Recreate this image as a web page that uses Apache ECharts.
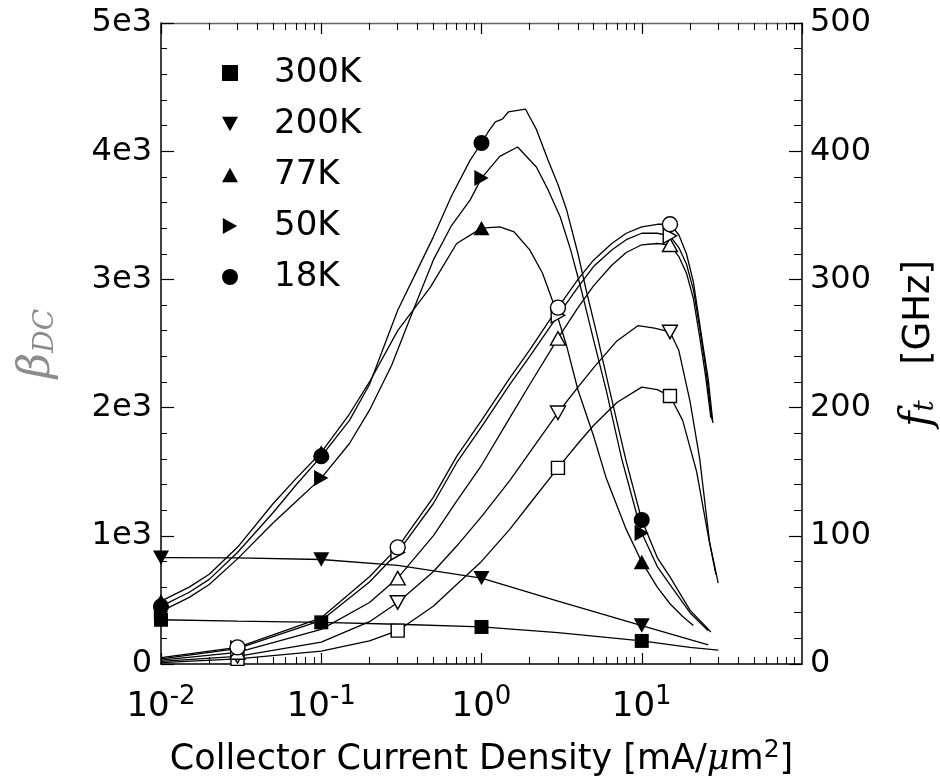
<!DOCTYPE html>
<html>
<head>
<meta charset="utf-8">
<script src="https://cdn.jsdelivr.net/npm/echarts@6/dist/echarts.min.js"></script>
<style>
  html, body { margin: 0; background: #fff; }
  #chart { width: 940px; height: 779px; }
</style>
</head>
<body>
<div id="chart"></div>
<script>
// where the markers sit (collector current density, mA/um^2)
var betaMarkX = [0.01, 0.1, 1, 10];
var ftMarkX = [0.03, 0.3, 3, 15];
var temps = ['300K', '200K', '77K', '50K', '18K'];

// beta_DC curves, [J, beta]
var beta300 = [[0.01, 345], [0.03, 335], [0.1, 325], [0.3, 310], [1, 289], [3, 245], [10, 180], [20, 130], [30, 109]];
var beta200 = [[0.01, 830], [0.03, 828], [0.1, 815], [0.3, 770], [1, 670], [3, 490], [10, 300], [26, 150]];
var beta77 = [[0.01, 490], [0.015, 600], [0.02, 700], [0.03, 910], [0.05, 1250], [0.07, 1450], [0.1, 1650], [0.15, 1950], [0.2, 2200], [0.3, 2600],
  [0.48, 2940], [0.7, 3280], [1, 3400], [1.3, 3410], [1.6, 3370], [2, 3230], [2.4, 3050], [2.8, 2820], [3.4, 2480], [4, 2137], [5, 1780],
  [6, 1450], [8, 1050], [10, 796], [12.5, 600], [15, 470], [18, 370], [21, 300]];
var beta50 = [[0.01, 410], [0.015, 520], [0.02, 620], [0.03, 820], [0.05, 1100], [0.07, 1270], [0.1, 1450], [0.15, 1720], [0.2, 1980], [0.275, 2330],
  [0.375, 2760], [0.5, 3150], [0.65, 3420], [0.85, 3620], [1, 3790], [1.3, 3960], [1.68, 4033], [2.2, 3877], [2.6, 3700], [3.1, 3487], [3.6, 3230],
  [4.2, 2917], [5, 2530], [6, 2137], [7.5, 1600], [10, 1022], [12.5, 760], [15, 620], [20, 400], [26, 260]];
var beta18 = [[0.01, 450], [0.015, 560], [0.02, 660], [0.03, 870], [0.05, 1180], [0.07, 1400], [0.1, 1620], [0.15, 1900], [0.2, 2180], [0.3, 2760],
  [0.4, 3080], [0.5, 3330], [0.65, 3650], [0.85, 3930], [1, 4064], [1.1, 4150], [1.22, 4228], [1.35, 4250], [1.47, 4306], [1.88, 4329], [2.2, 4170],
  [2.6, 3931], [3, 3740], [3.4, 3541], [4, 3200], [4.5, 2917], [5.3, 2550], [6.3, 2137], [8, 1580], [10, 1123], [12.5, 830], [15, 680], [20, 420], [27, 250]];

// f_t curves, [J, GHz]
var ft300 = [[0.01, 1], [0.03, 4], [0.1, 10], [0.2, 18], [0.3, 26], [0.5, 45], [0.7, 62], [1, 80], [1.5, 105], [2, 125], [3, 153], [4, 172], [5, 186],
  [7, 204], [10, 216], [12.5, 214], [15, 209], [18, 190], [22, 150], [26, 100], [29, 70]];
var ft200 = [[0.01, 2], [0.03, 6], [0.1, 17], [0.2, 33], [0.3, 48], [0.5, 72], [0.7, 92], [1, 115], [1.5, 143], [2, 165], [3, 196], [4, 216], [5, 231],
  [7, 252], [9.5, 264], [12, 262], [15, 259], [17, 245], [20, 205], [23, 160], [26.5, 95], [30, 63]];
var ft77 = [[0.01, 3], [0.03, 9], [0.1, 27], [0.2, 48], [0.3, 67], [0.5, 100], [0.7, 127], [1, 155], [1.5, 192], [2, 218], [3, 254], [4, 278],
  [5, 295], [6.5, 311], [8, 321], [10, 327], [12.5, 328], [15, 327], [17, 318], [19, 305], [21, 285], [23, 255], [25, 225], [27, 192]];
var ft50 = [[0.01, 4], [0.03, 12], [0.1, 34], [0.2, 64], [0.3, 87], [0.5, 125], [0.7, 157], [1, 185], [1.5, 218], [2, 240], [3, 272], [4, 294],
  [5, 310], [6.5, 323], [8, 331], [10, 336], [12.5, 336], [15, 334], [17, 325], [19, 312], [21, 292], [23, 262], [25, 232], [27.5, 190]];
var ft18 = [[0.01, 5], [0.03, 13], [0.1, 36], [0.2, 68], [0.3, 91], [0.5, 130], [0.7, 162], [1, 190], [1.5, 223], [2, 245], [3, 278], [4, 300],
  [5, 315], [6.5, 328], [8, 336], [10, 341], [12.5, 343], [15, 343], [17, 335], [19, 320], [21, 298], [24, 250], [26, 222], [27.8, 188]];

var betaCurves = [beta300, beta200, beta77, beta50, beta18];
var ftCurves = [ft300, ft200, ft77, ft50, ft18];

// minor ticks of the log axis
var minorX = [0.02, 0.03, 0.04, 0.05, 0.06, 0.07, 0.08, 0.09, 0.2, 0.3, 0.4, 0.5, 0.6, 0.7, 0.8, 0.9,
  2, 3, 4, 5, 6, 7, 8, 9, 20, 30, 40, 50, 60, 70, 80, 90];

var DOWN = 'path://M0,0L10,0L5,9Z';
var RIGHT = 'path://M0,0L9,5L0,10Z';
var UP = 'path://M5,0L10,9L0,9Z';
var SQUARE = 'path://M0,0L10,0L10,10L0,10Z';
var symbols = [SQUARE, DOWN, UP, RIGHT, 'circle'];
var sizes = [14, 16, 16, 16, 16];

var FONT = 'DejaVu Sans';

function pick(curve, xs) {
  return xs.map(function (x) {
    var p = curve.filter(function (d) { return d[0] === x; })[0];
    return [x, p[1]];
  });
}

var chart = echarts.init(document.getElementById('chart'));

var series = [];
for (var i = 0; i < temps.length; i++) {
  series.push({
    name: 'beta ' + temps[i], type: 'line', data: betaCurves[i], yAxisIndex: 0,
    symbol: 'none', lineStyle: { color: '#000', width: 1.3 }, z: 2
  });
  series.push({
    name: 'ft ' + temps[i], type: 'line', data: ftCurves[i], yAxisIndex: 1,
    symbol: 'none', lineStyle: { color: '#000', width: 1.3 }, z: 2
  });
}
for (var j = 0; j < temps.length; j++) {
  series.push({
    name: 'ft mark ' + temps[j], type: 'scatter', yAxisIndex: 1,
    data: pick(ftCurves[j], ftMarkX),
    symbol: symbols[j], symbolSize: sizes[j] - 1, symbolKeepAspect: true,
    itemStyle: { color: '#fff', borderColor: '#000', borderWidth: 1.4, opacity: 1 }, z: 3
  });
}
for (var k = 0; k < temps.length; k++) {
  series.push({
    name: temps[k], type: 'scatter', yAxisIndex: 0,
    data: pick(betaCurves[k], betaMarkX),
    symbol: symbols[k], symbolSize: sizes[k], symbolKeepAspect: true,
    itemStyle: { color: '#000', opacity: 1 }, z: 4
  });
}

var option = {
  animation: false,
  backgroundColor: '#fff',
  textStyle: { fontFamily: FONT },
  grid: { left: 161, right: 138, top: 23, bottom: 115, containLabel: false, outerBoundsMode: 'none' },
  legend: {
    data: temps,
    orient: 'vertical',
    left: 217, top: 51,
    itemWidth: 16, itemHeight: 16, itemGap: 17,
    symbolKeepAspect: true,
    selectedMode: false,
    itemStyle: { opacity: 1 },
    formatter: function (name) { return '{g|}{t|' + name + '}'; },
    textStyle: {
      rich: {
        g: { width: 31 },
        t: { fontSize: 34, lineHeight: 36, color: '#000', fontFamily: FONT }
      }
    }
  },
  xAxis: [
    {
      type: 'log', logBase: 10, min: 0.01, max: 100, position: 'bottom',
      name: '{t|Collector Current Density [mA/}{mu|μ}{t|m}{sup|2}{t|]}',
      nameLocation: 'middle', nameGap: 74,
      nameTextStyle: {
        rich: {
          t: { fontSize: 35, color: '#000', fontFamily: FONT },
          mu: { fontSize: 35, color: '#000', fontStyle: 'italic', fontFamily: 'DejaVu Serif' },
          sup: { fontSize: 25, color: '#000', fontFamily: FONT, padding: [0, 0, 18, 0] }
        }
      },
      axisLine: { lineStyle: { color: '#000', width: 1.5 } },
      axisTick: { inside: true, length: 11, lineStyle: { color: '#000', width: 1.2 } },
      axisLabel: {
        margin: 20, showMaxLabel: false,
        formatter: function (v) {
          var e = Math.round(Math.log10(v));
          if (e > 1) return '';
          return '{b|10}{s|' + e + '}';
        },
        rich: {
          b: { fontSize: 34, color: '#000', fontFamily: FONT },
          s: { fontSize: 26, color: '#000', fontFamily: FONT, padding: [0, 0, 20, 0] }
        }
      },
      splitLine: { show: false }
    },
    {
      type: 'log', logBase: 10, min: 0.01, max: 100, position: 'bottom',
      axisLine: { show: false },
      axisTick: { inside: true, length: 7, customValues: minorX, lineStyle: { color: '#000', width: 1.1 } },
      axisLabel: { show: false }, splitLine: { show: false }
    },
    {
      type: 'log', logBase: 10, min: 0.01, max: 100, position: 'top',
      axisLine: { lineStyle: { color: '#666', width: 1.3 } },
      axisTick: { inside: true, length: 11, lineStyle: { color: '#000', width: 1.2 } },
      axisLabel: { show: false }, splitLine: { show: false }
    },
    {
      type: 'log', logBase: 10, min: 0.01, max: 100, position: 'top',
      axisLine: { show: false },
      axisTick: { inside: true, length: 7, customValues: minorX, lineStyle: { color: '#000', width: 1.1 } },
      axisLabel: { show: false }, splitLine: { show: false }
    }
  ],
  yAxis: [
    {
      type: 'value', min: 0, max: 5000, interval: 1000, position: 'left',
      name: '{b|β}{s|DC}', nameLocation: 'middle', nameGap: 101, nameRotate: 90,
      nameTextStyle: {
        rich: {
          b: { fontSize: 44, color: '#8c8c8c', fontStyle: 'italic', fontFamily: 'DejaVu Serif' },
          s: { fontSize: 28, color: '#8c8c8c', fontStyle: 'italic', fontFamily: 'DejaVu Serif', padding: [16, 0, 0, 0] }
        }
      },
      axisLine: { show: true, lineStyle: { color: '#000', width: 1.5 } },
      axisTick: { inside: true, length: 13, lineStyle: { color: '#000', width: 1.2 } },
      minorTick: { show: true, splitNumber: 5, length: 6, lineStyle: { color: '#000', width: 1 } },
      axisLabel: {
        margin: 9, fontSize: 32, color: '#000', fontFamily: FONT,
        formatter: function (v) { return v === 0 ? '0' : (v / 1000) + 'e3'; }
      },
      splitLine: { show: false }
    },
    {
      type: 'value', min: 0, max: 500, interval: 100, position: 'right',
      name: '{i|f}{s|t}{t|   [GHz]}', nameLocation: 'middle', nameGap: 96, nameRotate: 90,
      nameTextStyle: {
        rich: {
          i: { fontSize: 42, color: '#000', fontStyle: 'italic', fontFamily: 'DejaVu Serif' },
          s: { fontSize: 28, color: '#000', fontStyle: 'italic', fontFamily: 'DejaVu Serif', padding: [14, 0, 0, 0] },
          t: { fontSize: 37, color: '#000', fontFamily: FONT }
        }
      },
      axisLine: { show: true, lineStyle: { color: '#000', width: 1.5 } },
      axisTick: { inside: true, length: 13, lineStyle: { color: '#000', width: 1.2 } },
      minorTick: { show: true, splitNumber: 5, length: 8, lineStyle: { color: '#000', width: 1 } },
      axisLabel: { margin: 8, fontSize: 32, color: '#000', fontFamily: FONT },
      splitLine: { show: false }
    }
  ],
  series: series
};

chart.setOption(option);
</script>
</body>
</html>
